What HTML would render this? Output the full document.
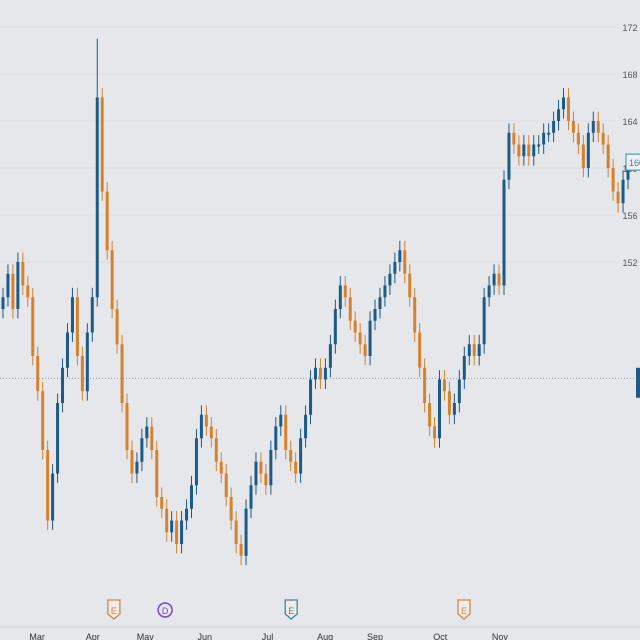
<!DOCTYPE html>
<html><head><meta charset="utf-8"><style>
body{margin:0;background:#e6e7eb;}
svg{display:block;font-family:"Liberation Sans",sans-serif;}
</style></head><body>
<svg id="c" width="640" height="640">
<rect width="640" height="640" fill="#e6e7eb"/>
</svg>
<script>
const closes=[149,151,148,152,150,149,144,141,136,130,134,140,143,146,149,144,141,146,149,166,158,153,148,145,140,136,134,135,137,138,136,132,131,129,130,128,130,131,133,137,139,138,137,135,134,132,130,128,127,131,133,135,134,133,136,138,139,136,135,134,137,139,142,143,142,143,145,148,150,149,147,146,145,144,147,148,149,150,151,152,153,151,149,146,143,140,138,137,142,141,139,140,142,144,145,144,145,149,150,151,150,159,163,162,161,162,161,162,162,163,163,164,165,166,164,163,162,160,163,164,163,162,160,158,157,159,160];
const spikeIndex=[19];
const spikeHigh=[171];
const priceTicks=[172,168,164,160,156,152];
const months=["Mar","Apr","May","Jun","Jul","Aug","Sep","Oct","Nov"];
const monthPos=[0.058,0.145,0.227,0.32,0.418,0.508,0.586,0.688,0.781];
const events=[{t:"E",c:"#c9884a",f:0.178},{t:"D",c:"#7b45c9",f:0.258},{t:"E",c:"#3f84a8",f:0.455},{t:"E",c:"#c9884a",f:0.725}];
const lastPrice=[160.5];
const avgPrice=[142.1];

const NS="http://www.w3.org/2000/svg",svg=document.getElementById('c');
const y=p=>27+(172-p)*11.75;
const x=i=>3+i*(625/(closes.length-1));
function el(t,a,p){const e=document.createElementNS(NS,t);for(const k in a)e.setAttribute(k,a[k]);(p||svg).appendChild(e);return e;}
const grid=el('g',{});


priceTicks.forEach(p=>{
 el('line',{x1:0,x2:615,y1:y(p),y2:y(p),stroke:'#dcdde2','stroke-width':1},grid);
 const t=el('text',{x:630,y:y(p)+4,'font-size':9,fill:'#555','text-anchor':'middle'});
 t.textContent=p;
 
 
});
const avg=el('line',{x1:0,x2:640,y1:y(avgPrice[0]),y2:y(avgPrice[0]),stroke:'#8fa4b8','stroke-dasharray':'1,2'});


const cg=el('g',{});


for(let i=0;i<closes.length;i++){
 const o=i>0?closes[i-1]:closes[0]-1,c=closes[i];
 let hi=Math.max(o,c)+0.8,lo=Math.min(o,c)-0.8;
 const k=spikeIndex.indexOf(i);if(k>=0)hi=spikeHigh[k];
 const col=c>=o?'#1d5a86':'#d5822e';
 const g=el('g',{},cg);
 
 
 el('line',{x1:x(i),x2:x(i),y1:y(hi),y2:y(lo),stroke:col,'stroke-width':1},g);
 const top=y(Math.max(o,c)),h=Math.max(2,y(Math.min(o,c))-top);
 el('rect',{x:x(i)-1.5,y:top,width:3,height:h,fill:col},g);
}
const lb=el('g',{});


el('rect',{x:626,y:y(lastPrice[0])-8,width:16,height:16,fill:'#eef0f3',stroke:'#3f84a8'},lb);
const lt=el('text',{x:629,y:y(lastPrice[0])+4,'font-size':9,fill:'#3f84a8'},lb);lt.textContent='160';
el('rect',{x:636,y:y(143),width:4,height:30,fill:'#1d5a86'});
el('line',{x1:0,x2:640,y1:627,y2:627,stroke:'#d0d2d8'});
events.forEach(e=>{
 const g=el('g',{});
 
 
 const cx=e.f*640;
 if(e.t==='D')el('circle',{cx:cx,cy:610,r:7,fill:'none',stroke:e.c,'stroke-width':1.5},g);
 else el('path',{d:`M${cx-6},600 h12 v14 l-6,5 l-6,-5z`,fill:'#f1ebe4',stroke:e.c,'stroke-width':1.3},g);
 const t=el('text',{x:cx,y:614,'font-size':9,fill:e.c,'text-anchor':'middle'},g);t.textContent=e.t;
});
months.forEach((m,i)=>{
 const t=el('text',{x:monthPos[i]*640,y:640,'font-size':9,fill:'#333','text-anchor':'middle'});
 t.textContent=m;
 
 
});
</script>
</body></html>
